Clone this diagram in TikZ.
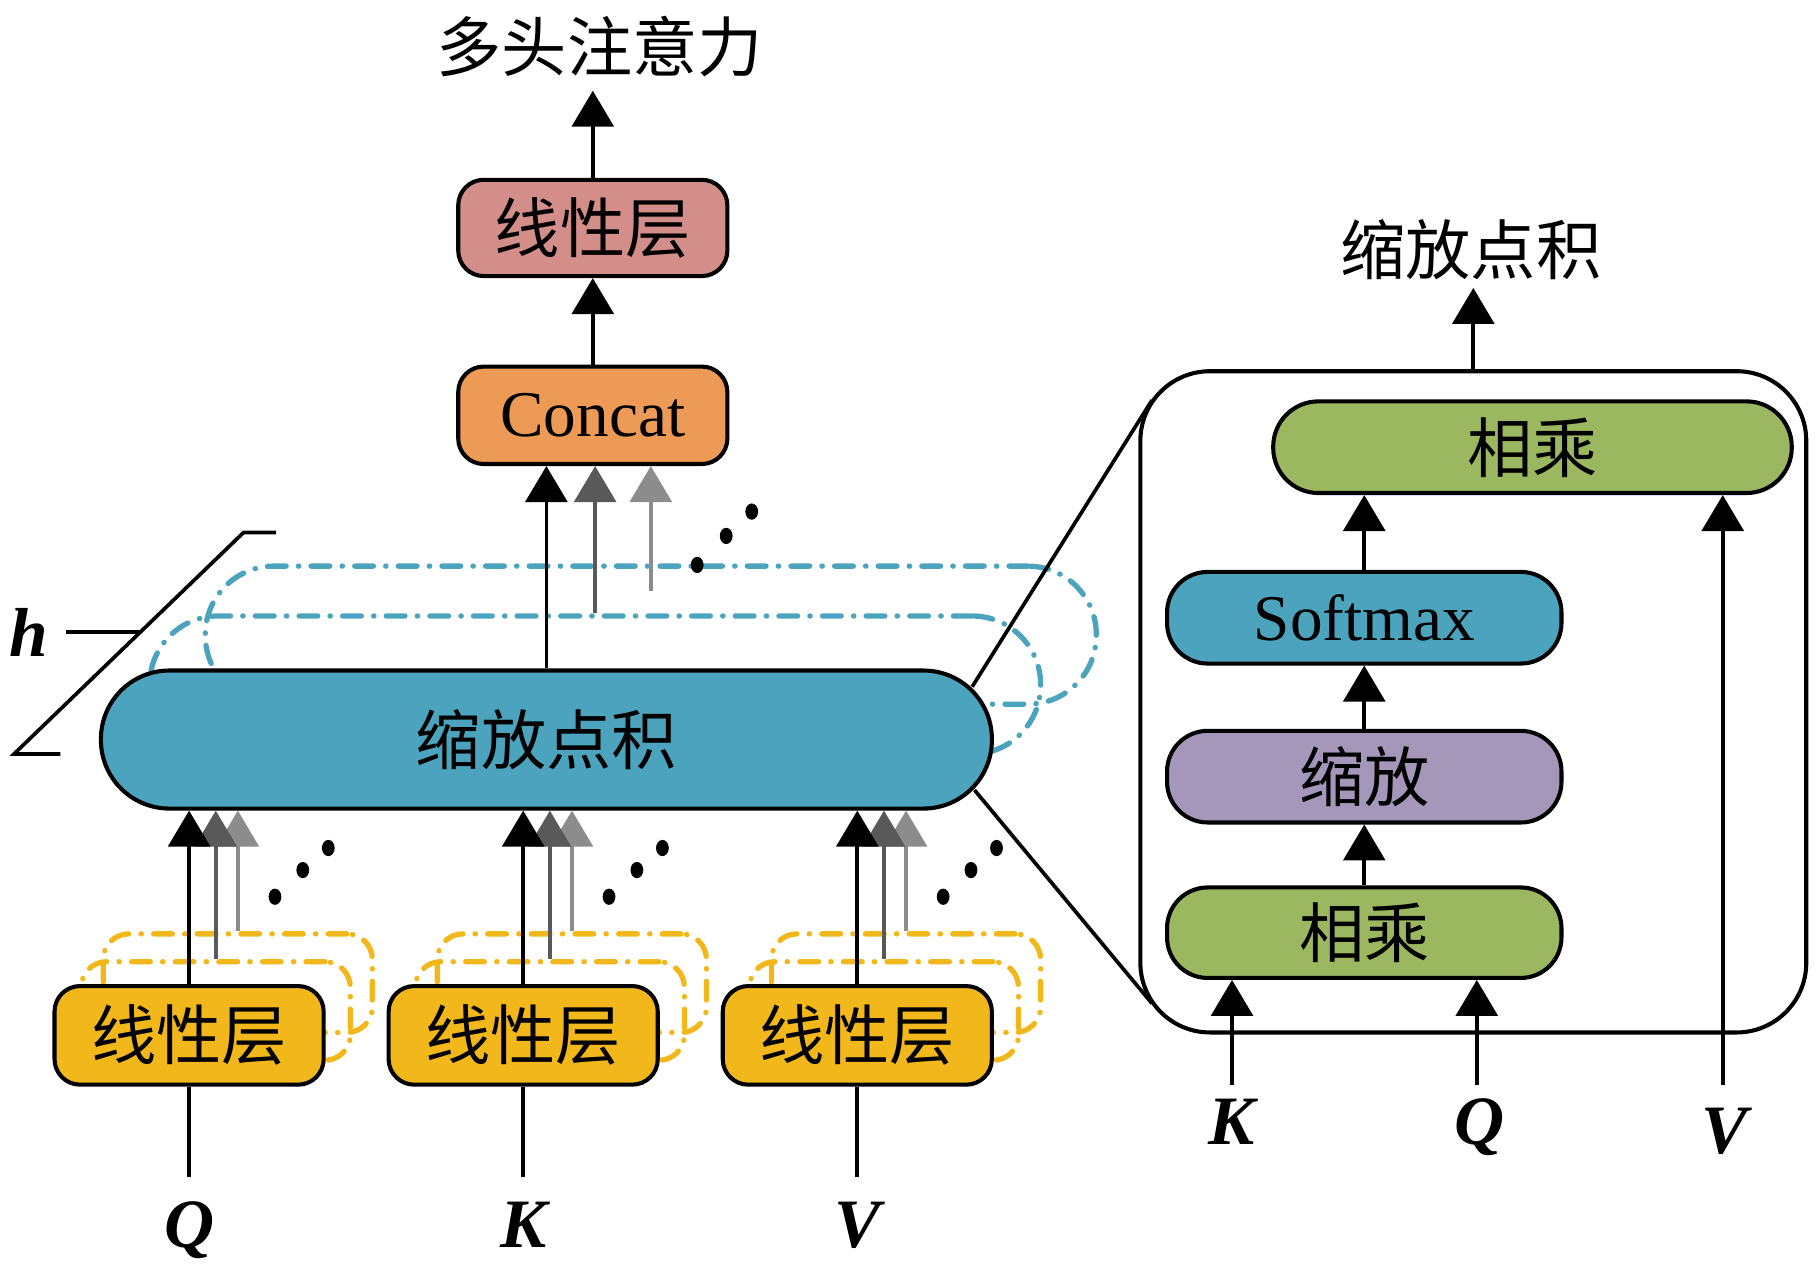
\documentclass[tikz,border=0pt]{standalone}
\usepackage{fontspec}
\setmainfont{Liberation Serif}
\newfontfamily\cjk{Noto Sans CJK SC}
\usepackage{tikz}
\usetikzlibrary{arrows.meta}
\usepackage{xcolor}
\definecolor{linred}{RGB}{211,142,137}
\definecolor{catorange}{RGB}{236,154,86}
\definecolor{dpteal}{RGB}{75,163,189}
\definecolor{linyellow}{RGB}{242,184,27}
\definecolor{mulgreen}{RGB}{155,183,95}
\definecolor{sclpurple}{RGB}{165,151,186}
\definecolor{headgray}{RGB}{89,89,89}
\definecolor{headlight}{RGB}{140,140,140}

\begin{document}
\begin{tikzpicture}[>={Triangle[width=3.6mm,length=3.1mm]},line width=0.9pt,
  txt/.style={font=\fontsize{16}{19}\selectfont},
  blk/.style={txt,draw,line width=1pt,inner sep=0pt,rounded corners=0.22cm,minimum width=2.32cm,minimum height=0.84cm},
  dashcopy/.style={draw,line width=1.3pt,line cap=round,dash pattern=on 4.6pt off 3pt on 0.1pt off 3pt,inner sep=0pt},
  ycopy/.style={dashcopy,draw=linyellow,rounded corners=0.22cm,minimum width=2.32cm,minimum height=0.85cm},
  tcopy/.style={dashcopy,draw=dpteal,rounded corners=0.59cm,minimum width=7.68cm,minimum height=1.19cm},
  lab/.style={font=\fontsize{17}{19}\selectfont\bfseries\itshape,anchor=base},
  inner/.style={blk,minimum width=3.40cm,minimum height=0.79cm,rounded corners=0.35cm}]
\useasboundingbox (0,0) rectangle (15.68,11);

\node[ycopy] (lq2) at (2.05,2.525) {};
\node[ycopy] (lq1) at (1.86,2.285) {};
\node[ycopy] (lk2) at (4.93,2.525) {};
\node[ycopy] (lk1) at (4.74,2.285) {};
\node[ycopy] (lv2) at (7.81,2.525) {};
\node[ycopy] (lv1) at (7.62,2.285) {};
\node[blk,fill=linyellow,minimum height=0.85cm] (lq) at (1.63,2.075) {\cjk 线性层};
\node[blk,fill=linyellow,minimum height=0.85cm] (lk) at (4.51,2.075) {\cjk 线性层};
\node[blk,fill=linyellow,minimum height=0.85cm] (lv) at (7.39,2.075) {\cjk 线性层};

\node[tcopy] (sdp2) at (5.61,5.525) {};
\node[tcopy] (sdp1) at (5.13,5.095) {};
\node[blk,fill=dpteal,minimum width=7.68cm,minimum height=1.19cm,rounded corners=0.59cm] (sdp) at (4.71,4.625) {\cjk 缩放点积\hspace{0.12cm}};

\node[blk,fill=catorange] (concat) at (5.11,7.42) {Concat};
\node[blk,fill=linred,minimum height=0.83cm] (lin) at (5.11,9.035) {\cjk 线性层};
\node[txt] (mha) at (5.17,10.60) {\cjk 多头注意力};

\draw[->] (concat.north) -- (lin.south);
\draw[->] (lin.north) -- ++(0,0.75);
\draw[->,headlight] ([yshift=-0.24cm]sdp2.north) -- (sdp2.north |- concat.south);
\draw[->,headgray] (sdp1.north) -- (sdp1.north |- concat.south);
\draw[->] (sdp.north) -- (sdp.north |- concat.south);
\foreach \x/\y in {6.01/6.13,6.26/6.38,6.48/6.59} \fill (\x,\y) ellipse (0.055 and 0.07);

\foreach \n in {q,k,v} {
  \draw[->,headlight] (l\n2.north) -- (l\n2.north |- sdp.south);
  \draw[->,headgray] (l\n1.north) -- (l\n1.north |- sdp.south);
  \draw[->] (l\n.north) -- (l\n.north |- sdp.south);
}
\foreach \dx in {0,2.88,5.76} {
  \fill (2.37+\dx,3.27) ellipse (0.055 and 0.07);
  \fill (2.61+\dx,3.50) ellipse (0.055 and 0.07);
  \fill (2.83+\dx,3.69) ellipse (0.055 and 0.07);
}

\coordinate (qin) at (1.63,0.85);
\coordinate (kin) at (4.51,0.85);
\coordinate (vin) at (7.39,0.85);
\draw (lq.south) -- (qin);
\draw (lk.south) -- (kin);
\draw (lv.south) -- (vin);
\node[lab] (xq) at (1.63,0.25) {Q};
\node[lab] (xk) at (4.51,0.25) {K};
\node[lab] (xv) at (7.39,0.25) {V};

\coordinate (hb1) at (0.52,4.50);
\coordinate (hb2) at (0.12,4.50);
\coordinate (ht1) at (2.10,6.41);
\coordinate (ht2) at (2.38,6.41);
\coordinate (htick) at (1.21,5.55);
\draw (hb1) -- (hb2) -- (ht1) -- (ht2);
\node[font=\fontsize{17}{19}\selectfont\bfseries\itshape] (hlab) at (0.25,5.55) {h};
\draw (hlab.east) ++(0.02,0) -- (htick);

\node[draw,line width=1pt,rounded corners=0.6cm,minimum width=5.74cm,minimum height=5.70cm] (dpbox) at (12.70,4.95) {};
\node[inner,fill=mulgreen,minimum height=0.78cm] (mula) at (11.76,2.96) {\cjk 相乘};
\node[inner,fill=sclpurple] (scl) at (11.76,4.305) {\cjk 缩放};
\node[inner,fill=dpteal] (soft) at (11.76,5.675) {Softmax};
\node[inner,fill=mulgreen,minimum width=4.47cm,rounded corners=0.39cm] (mulb) at (13.21,7.145) {\cjk 相乘};
\node[txt] (dptitle) at (12.68,8.85) {\cjk 缩放点积};

\draw[->] (mula.north) -- (scl.south);
\draw[->] (scl.north) -- (soft.south);
\draw[->] (soft.north) -- (soft.north |- mulb.south);
\draw[->] (dpbox.north) -- ++(0,0.70);

\coordinate (kin2) at (10.62,1.65);
\coordinate (qin2) at (12.73,1.65);
\coordinate (vin2) at (14.85,1.65);
\draw[->] (kin2) -- (kin2 |- mula.south);
\draw[->] (qin2) -- (qin2 |- mula.south);
\draw[->] (vin2) -- (vin2 |- mulb.south);
\node[lab] (xk2) at (10.62,1.13) {K};
\node[lab] (xq2) at (12.75,1.13) {Q};
\node[lab] (xv2) at (14.87,1.06) {V};

\coordinate (zt1) at (8.38,5.08);
\coordinate (zt2) at (9.93,7.55);
\coordinate (zb1) at (8.40,4.19);
\coordinate (zb2) at (9.93,2.35);
\draw (zt1) -- (zt2);
\draw (zb1) -- (zb2);
\end{tikzpicture}
\end{document}
